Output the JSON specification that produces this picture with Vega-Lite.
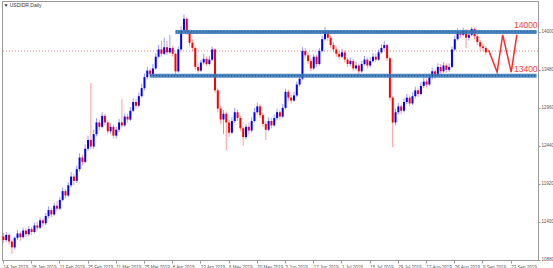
{
"$schema":"https://vega.github.io/schema/vega-lite/v6.json",
"width":536,"height":259,
"padding":{"left":1,"top":1,"right":0,"bottom":0},
"background":"#ffffff",
"config":{"view":{"stroke":"#9a9a9a","strokeWidth":1},"font":"Liberation Sans"},
"datasets":{
"candles":[
{"d":"2019-01-14","o":11200,"c":11150,"h":11250,"l":11110},
{"d":"2019-01-15","o":11150,"c":11220,"h":11260,"l":11120},
{"d":"2019-01-16","o":11220,"c":11130,"h":11240,"l":11090},
{"d":"2019-01-17","o":11130,"c":11050,"h":11160,"l":10960},
{"d":"2019-01-18","o":11050,"c":11180,"h":11200,"l":11020},
{"d":"2019-01-21","o":11180,"c":11240,"h":11290,"l":11150},
{"d":"2019-01-22","o":11240,"c":11190,"h":11270,"l":11140},
{"d":"2019-01-23","o":11190,"c":11280,"h":11320,"l":11170},
{"d":"2019-01-24","o":11280,"c":11230,"h":11310,"l":11190},
{"d":"2019-01-25","o":11230,"c":11300,"h":11340,"l":11200},
{"d":"2019-01-28","o":11300,"c":11260,"h":11330,"l":11220},
{"d":"2019-01-29","o":11260,"c":11350,"h":11390,"l":11240},
{"d":"2019-01-30","o":11350,"c":11320,"h":11400,"l":11280},
{"d":"2019-01-31","o":11320,"c":11420,"h":11460,"l":11300},
{"d":"2019-02-01","o":11420,"c":11380,"h":11450,"l":11340},
{"d":"2019-02-04","o":11380,"c":11480,"h":11520,"l":11350},
{"d":"2019-02-05","o":11480,"c":11560,"h":11610,"l":11450},
{"d":"2019-02-06","o":11560,"c":11500,"h":11590,"l":11460},
{"d":"2019-02-07","o":11500,"c":11620,"h":11660,"l":11480},
{"d":"2019-02-08","o":11620,"c":11580,"h":11680,"l":11540},
{"d":"2019-02-11","o":11580,"c":11700,"h":11740,"l":11560},
{"d":"2019-02-12","o":11700,"c":11820,"h":11870,"l":11680},
{"d":"2019-02-13","o":11820,"c":11760,"h":11850,"l":11720},
{"d":"2019-02-14","o":11760,"c":11900,"h":11940,"l":11740},
{"d":"2019-02-15","o":11900,"c":12020,"h":12080,"l":11870},
{"d":"2019-02-18","o":12020,"c":11960,"h":12060,"l":11900},
{"d":"2019-02-19","o":11960,"c":12120,"h":12170,"l":11930},
{"d":"2019-02-20","o":12120,"c":12280,"h":12340,"l":12090},
{"d":"2019-02-21","o":12280,"c":12220,"h":12320,"l":12170},
{"d":"2019-02-22","o":12220,"c":12400,"h":12460,"l":12200},
{"d":"2019-02-25","o":12400,"c":12520,"h":12580,"l":12370},
{"d":"2019-02-26","o":12520,"c":12430,"h":13300,"l":12390},
{"d":"2019-02-27","o":12430,"c":12600,"h":12660,"l":12400},
{"d":"2019-02-28","o":12600,"c":12760,"h":12820,"l":12570},
{"d":"2019-03-01","o":12760,"c":12700,"h":12800,"l":12650},
{"d":"2019-03-04","o":12700,"c":12850,"h":12900,"l":12680},
{"d":"2019-03-05","o":12850,"c":12760,"h":12880,"l":12720},
{"d":"2019-03-06","o":12760,"c":12640,"h":12790,"l":12600},
{"d":"2019-03-07","o":12640,"c":12700,"h":12750,"l":12600},
{"d":"2019-03-08","o":12700,"c":12580,"h":12730,"l":12540},
{"d":"2019-03-11","o":12580,"c":12660,"h":12700,"l":12540},
{"d":"2019-03-12","o":12660,"c":12760,"h":12810,"l":12630},
{"d":"2019-03-13","o":12760,"c":12720,"h":13080,"l":12690},
{"d":"2019-03-14","o":12720,"c":12840,"h":12880,"l":12700},
{"d":"2019-03-15","o":12840,"c":12800,"h":12880,"l":12760},
{"d":"2019-03-18","o":12800,"c":12920,"h":12970,"l":12780},
{"d":"2019-03-19","o":12920,"c":13040,"h":13090,"l":12900},
{"d":"2019-03-20","o":13040,"c":12990,"h":13080,"l":12950},
{"d":"2019-03-21","o":12990,"c":13120,"h":13170,"l":12970},
{"d":"2019-03-22","o":13120,"c":13230,"h":13290,"l":13100},
{"d":"2019-03-25","o":13230,"c":13380,"h":13430,"l":13200},
{"d":"2019-03-26","o":13380,"c":13470,"h":13520,"l":13350},
{"d":"2019-03-27","o":13470,"c":13420,"h":13500,"l":13380},
{"d":"2019-03-28","o":13420,"c":13500,"h":13560,"l":13390},
{"d":"2019-03-29","o":13500,"c":13660,"h":13710,"l":13480},
{"d":"2019-04-01","o":13660,"c":13760,"h":13820,"l":13640},
{"d":"2019-04-02","o":13760,"c":13700,"h":13880,"l":13660},
{"d":"2019-04-03","o":13700,"c":13790,"h":13920,"l":13680},
{"d":"2019-04-04","o":13790,"c":13720,"h":13880,"l":13680},
{"d":"2019-04-05","o":13720,"c":13780,"h":13960,"l":13700},
{"d":"2019-04-08","o":13780,"c":13700,"h":13810,"l":13660},
{"d":"2019-04-09","o":13700,"c":13460,"h":13720,"l":13420},
{"d":"2019-04-10","o":13460,"c":13760,"h":13800,"l":13440},
{"d":"2019-04-11","o":13760,"c":14020,"h":14080,"l":13740},
{"d":"2019-04-12","o":14020,"c":14180,"h":14240,"l":14000},
{"d":"2019-04-15","o":14180,"c":14000,"h":14200,"l":13960},
{"d":"2019-04-16","o":14000,"c":13850,"h":14030,"l":13800},
{"d":"2019-04-17","o":13850,"c":13780,"h":13900,"l":13740},
{"d":"2019-04-18","o":13780,"c":13520,"h":13800,"l":13480},
{"d":"2019-04-19","o":13520,"c":13470,"h":13560,"l":13440},
{"d":"2019-04-22","o":13470,"c":13580,"h":13620,"l":13450},
{"d":"2019-04-23","o":13580,"c":13630,"h":13700,"l":13550},
{"d":"2019-04-24","o":13630,"c":13560,"h":13660,"l":13530},
{"d":"2019-04-25","o":13560,"c":13620,"h":13670,"l":13540},
{"d":"2019-04-26","o":13620,"c":13760,"h":13800,"l":13600},
{"d":"2019-04-29","o":13760,"c":13200,"h":13780,"l":13160},
{"d":"2019-04-30","o":13200,"c":12950,"h":13230,"l":12900},
{"d":"2019-05-01","o":12950,"c":12800,"h":12990,"l":12740},
{"d":"2019-05-02","o":12800,"c":12880,"h":12930,"l":12600},
{"d":"2019-05-03","o":12880,"c":12760,"h":12910,"l":12380},
{"d":"2019-05-06","o":12760,"c":12620,"h":12800,"l":12560},
{"d":"2019-05-07","o":12620,"c":12780,"h":12830,"l":12600},
{"d":"2019-05-08","o":12780,"c":12900,"h":12960,"l":12750},
{"d":"2019-05-09","o":12900,"c":12820,"h":12940,"l":12780},
{"d":"2019-05-10","o":12820,"c":12680,"h":12850,"l":12640},
{"d":"2019-05-13","o":12680,"c":12560,"h":12710,"l":12440},
{"d":"2019-05-14","o":12560,"c":12700,"h":12740,"l":12530},
{"d":"2019-05-15","o":12700,"c":12650,"h":12760,"l":12600},
{"d":"2019-05-16","o":12650,"c":12780,"h":12830,"l":12620},
{"d":"2019-05-17","o":12780,"c":12900,"h":12960,"l":12760},
{"d":"2019-05-20","o":12900,"c":12980,"h":13030,"l":12870},
{"d":"2019-05-21","o":12980,"c":12860,"h":13010,"l":12820},
{"d":"2019-05-22","o":12860,"c":12740,"h":12890,"l":12700},
{"d":"2019-05-23","o":12740,"c":12660,"h":12780,"l":12520},
{"d":"2019-05-24","o":12660,"c":12780,"h":12830,"l":12640},
{"d":"2019-05-27","o":12780,"c":12720,"h":12820,"l":12680},
{"d":"2019-05-28","o":12720,"c":12820,"h":12870,"l":12700},
{"d":"2019-05-29","o":12820,"c":12900,"h":12950,"l":12790},
{"d":"2019-05-30","o":12900,"c":12840,"h":12930,"l":12800},
{"d":"2019-05-31","o":12840,"c":12960,"h":13010,"l":12820},
{"d":"2019-06-03","o":12960,"c":13180,"h":13220,"l":12940},
{"d":"2019-06-04","o":13180,"c":13100,"h":13210,"l":13060},
{"d":"2019-06-05","o":13100,"c":13060,"h":13140,"l":13020},
{"d":"2019-06-06","o":13060,"c":13130,"h":13180,"l":13040},
{"d":"2019-06-07","o":13130,"c":13280,"h":13320,"l":13110},
{"d":"2019-06-10","o":13280,"c":13360,"h":13420,"l":13250},
{"d":"2019-06-11","o":13360,"c":13740,"h":13790,"l":13340},
{"d":"2019-06-12","o":13740,"c":13680,"h":13780,"l":13640},
{"d":"2019-06-13","o":13680,"c":13600,"h":13710,"l":13560},
{"d":"2019-06-14","o":13600,"c":13500,"h":13630,"l":13460},
{"d":"2019-06-17","o":13500,"c":13660,"h":13700,"l":13480},
{"d":"2019-06-18","o":13660,"c":13560,"h":13690,"l":13520},
{"d":"2019-06-19","o":13560,"c":13740,"h":13780,"l":13540},
{"d":"2019-06-20","o":13740,"c":13900,"h":13950,"l":13720},
{"d":"2019-06-21","o":13900,"c":14000,"h":14070,"l":13880},
{"d":"2019-06-24","o":14000,"c":13920,"h":14030,"l":13880},
{"d":"2019-06-25","o":13920,"c":13820,"h":13950,"l":13780},
{"d":"2019-06-26","o":13820,"c":13760,"h":13860,"l":13720},
{"d":"2019-06-27","o":13760,"c":13700,"h":13800,"l":13660},
{"d":"2019-06-28","o":13700,"c":13660,"h":13740,"l":13620},
{"d":"2019-07-01","o":13660,"c":13720,"h":13770,"l":13640},
{"d":"2019-07-02","o":13720,"c":13620,"h":13750,"l":13580},
{"d":"2019-07-03","o":13620,"c":13560,"h":13650,"l":13520},
{"d":"2019-07-04","o":13560,"c":13600,"h":13650,"l":13530},
{"d":"2019-07-05","o":13600,"c":13500,"h":13630,"l":13460},
{"d":"2019-07-08","o":13500,"c":13540,"h":13590,"l":13470},
{"d":"2019-07-09","o":13540,"c":13460,"h":13570,"l":13420},
{"d":"2019-07-10","o":13460,"c":13560,"h":13600,"l":13440},
{"d":"2019-07-11","o":13560,"c":13620,"h":13670,"l":13540},
{"d":"2019-07-12","o":13620,"c":13540,"h":13650,"l":13500},
{"d":"2019-07-15","o":13540,"c":13600,"h":13650,"l":13510},
{"d":"2019-07-16","o":13600,"c":13660,"h":13710,"l":13580},
{"d":"2019-07-17","o":13660,"c":13620,"h":13700,"l":13590},
{"d":"2019-07-18","o":13620,"c":13720,"h":13760,"l":13600},
{"d":"2019-07-19","o":13720,"c":13780,"h":13830,"l":13700},
{"d":"2019-07-22","o":13780,"c":13820,"h":13880,"l":13760},
{"d":"2019-07-23","o":13820,"c":13640,"h":13840,"l":13600},
{"d":"2019-07-24","o":13640,"c":13100,"h":13660,"l":13060},
{"d":"2019-07-25","o":13100,"c":12760,"h":13120,"l":12420},
{"d":"2019-07-26","o":12760,"c":12900,"h":12950,"l":12720},
{"d":"2019-07-29","o":12900,"c":12980,"h":13030,"l":12870},
{"d":"2019-07-30","o":12980,"c":12920,"h":13010,"l":12880},
{"d":"2019-07-31","o":12920,"c":13040,"h":13090,"l":12900},
{"d":"2019-08-01","o":13040,"c":13100,"h":13150,"l":13010},
{"d":"2019-08-02","o":13100,"c":13020,"h":13130,"l":12980},
{"d":"2019-08-05","o":13020,"c":13120,"h":13170,"l":13000},
{"d":"2019-08-06","o":13120,"c":13200,"h":13250,"l":13090},
{"d":"2019-08-07","o":13200,"c":13150,"h":13240,"l":13110},
{"d":"2019-08-08","o":13150,"c":13260,"h":13310,"l":13130},
{"d":"2019-08-09","o":13260,"c":13320,"h":13370,"l":13230},
{"d":"2019-08-12","o":13320,"c":13280,"h":13360,"l":13240},
{"d":"2019-08-13","o":13280,"c":13380,"h":13430,"l":13260},
{"d":"2019-08-14","o":13380,"c":13460,"h":13510,"l":13350},
{"d":"2019-08-15","o":13460,"c":13400,"h":13490,"l":13360},
{"d":"2019-08-16","o":13400,"c":13520,"h":13570,"l":13380},
{"d":"2019-08-19","o":13520,"c":13460,"h":13560,"l":13420},
{"d":"2019-08-20","o":13460,"c":13540,"h":13590,"l":13440},
{"d":"2019-08-21","o":13540,"c":13480,"h":13570,"l":13440},
{"d":"2019-08-22","o":13480,"c":13520,"h":13570,"l":13450},
{"d":"2019-08-23","o":13520,"c":13760,"h":13800,"l":13500},
{"d":"2019-08-26","o":13760,"c":13900,"h":13950,"l":13740},
{"d":"2019-08-27","o":13900,"c":14000,"h":14050,"l":13880},
{"d":"2019-08-28","o":14000,"c":13960,"h":14030,"l":13920},
{"d":"2019-08-29","o":13960,"c":14020,"h":14060,"l":13940},
{"d":"2019-08-30","o":14020,"c":13920,"h":14040,"l":13780},
{"d":"2019-09-02","o":13920,"c":13960,"h":14000,"l":13880},
{"d":"2019-09-03","o":13960,"c":14040,"h":14070,"l":13940},
{"d":"2019-09-04","o":14040,"c":13940,"h":14060,"l":13900},
{"d":"2019-09-05","o":13940,"c":13860,"h":13970,"l":13820},
{"d":"2019-09-06","o":13860,"c":13800,"h":13890,"l":13740},
{"d":"2019-09-09","o":13800,"c":13780,"h":13840,"l":13740},
{"d":"2019-09-10","o":13780,"c":13720,"h":13810,"l":13690},
{"d":"2019-09-11","f":13750},
{"d":"2019-09-12"},
{"d":"2019-09-13"},
{"d":"2019-09-16","f":13450},
{"d":"2019-09-17"},
{"d":"2019-09-18","f":13960},
{"d":"2019-09-19"},
{"d":"2019-09-20"},
{"d":"2019-09-23","f":13450},
{"d":"2019-09-24"},
{"d":"2019-09-25","f":13960},
{"d":"2019-09-26"},
{"d":"2019-09-27"},
{"d":"2019-09-30"},
{"d":"2019-10-01"},
{"d":"2019-10-02"},
{"d":"2019-10-03"},
{"d":"2019-10-04"}
],
"levels":[
{"s":"2019-04-09","e":"2019-10-04","v":14000,"label":"14000"},
{"s":"2019-03-27","e":"2019-10-04","v":13400,"label":"13400"}
]
},
"layer":[
{"data":{"name":"candles"},
 "mark":{"type":"point","opacity":0,"size":1},
 "encoding":{
  "x":{"field":"d","type":"ordinal","sort":"ascending","scale":{"paddingInner":0,"paddingOuter":0},
   "axis":{"title":null,"values":["2019-01-14","2019-01-28","2019-02-11","2019-02-25","2019-03-11","2019-03-25","2019-04-08","2019-04-22","2019-05-06","2019-05-20","2019-06-03","2019-06-17","2019-07-01","2019-07-15","2019-07-29","2019-08-12","2019-08-26","2019-09-09","2019-09-23"],
    "labelExpr":"utcFormat(toDate(datum.value), '%-d %b %Y')","labelAngle":0,"labelAlign":"left","labelFontSize":4.5,"labelColor":"#555555","labelPadding":1,"labelOverlap":false,"tickSize":3,"tickColor":"#999999","domainColor":"#9a9a9a","grid":false}},
  "y":{"datum":13740,"type":"quantitative","scale":{"domain":[10877,14423],"nice":false,"zero":false},
   "axis":{"title":null,"orient":"right","format":"d","values":[14390,14260,14130,14000,13870,13740,13610,13480,13350,13220,13090,12960,12830,12700,12570,12440,12310,12180,12050,11920,11790,11660,11530,11400,11270,11140,11010,10880],
    "labelFontSize":4.5,"labelColor":"#555555","labelPadding":1,"labelOverlap":false,"tickSize":2,"tickColor":"#999999","domainColor":"#9a9a9a","grid":false}}}},
{"data":{"name":"candles"},
 "mark":{"type":"rule","color":"#edc4c4","strokeDash":[1,2],"strokeWidth":1},
 "encoding":{"y":{"datum":13740,"type":"quantitative"}}},
{"data":{"name":"candles"},
 "transform":[{"filter":"isValid(datum.h)"}],
 "mark":{"type":"rule","strokeWidth":1,"opacity":0.4},
 "encoding":{
  "x":{"field":"d","type":"ordinal","sort":"ascending"},
  "y":{"field":"l","type":"quantitative"},
  "y2":{"field":"h"},
  "color":{"condition":{"test":"datum.c >= datum.o","value":"#0000ff"},"value":"#ff0000"}}},
{"data":{"name":"candles"},
 "transform":[{"filter":"isValid(datum.o)"}],
 "mark":{"type":"bar","size":2},
 "encoding":{
  "x":{"field":"d","type":"ordinal","sort":"ascending"},
  "y":{"field":"o","type":"quantitative"},
  "y2":{"field":"c"},
  "color":{"condition":{"test":"datum.c >= datum.o","value":"#0000ff"},"value":"#ff0000"}}},
{"data":{"name":"levels"},
 "mark":{"type":"rule","color":"#3b7bbd","strokeWidth":4,"opacity":0.9},
 "encoding":{"x":{"field":"s","type":"ordinal"},"x2":{"field":"e"},"y":{"field":"v","type":"quantitative"}}},
{"data":{"name":"levels"},
 "mark":{"type":"rule","color":"#1d4470","strokeWidth":1,"strokeDash":[1,2]},
 "encoding":{"x":{"field":"s","type":"ordinal"},"x2":{"field":"e"},"y":{"field":"v","type":"quantitative"}}},
{"data":{"name":"candles"},
 "transform":[{"filter":"isValid(datum.f)"}],
 "mark":{"type":"line","color":"#ff2a2a","strokeWidth":1.5},
 "encoding":{"x":{"field":"d","type":"ordinal","sort":"ascending"},"y":{"field":"f","type":"quantitative"}}},
{"data":{"name":"levels"},
 "mark":{"type":"text","color":"#ff3b3b","fontSize":8.5,"align":"right","baseline":"bottom","dy":-2,"dx":1},
 "encoding":{"x":{"field":"e","type":"ordinal"},"y":{"field":"v","type":"quantitative"},"text":{"field":"label"}}},
{"data":{"values":[{"d":"2019-01-14","t":"▼ USDIDR,Daily","y":14423}]},
 "mark":{"type":"text","color":"#333333","fontSize":5,"align":"left","baseline":"top","dy":2},
 "encoding":{"x":{"field":"d","type":"ordinal"},"y":{"field":"y","type":"quantitative"},"text":{"field":"t"}}}
]
}
